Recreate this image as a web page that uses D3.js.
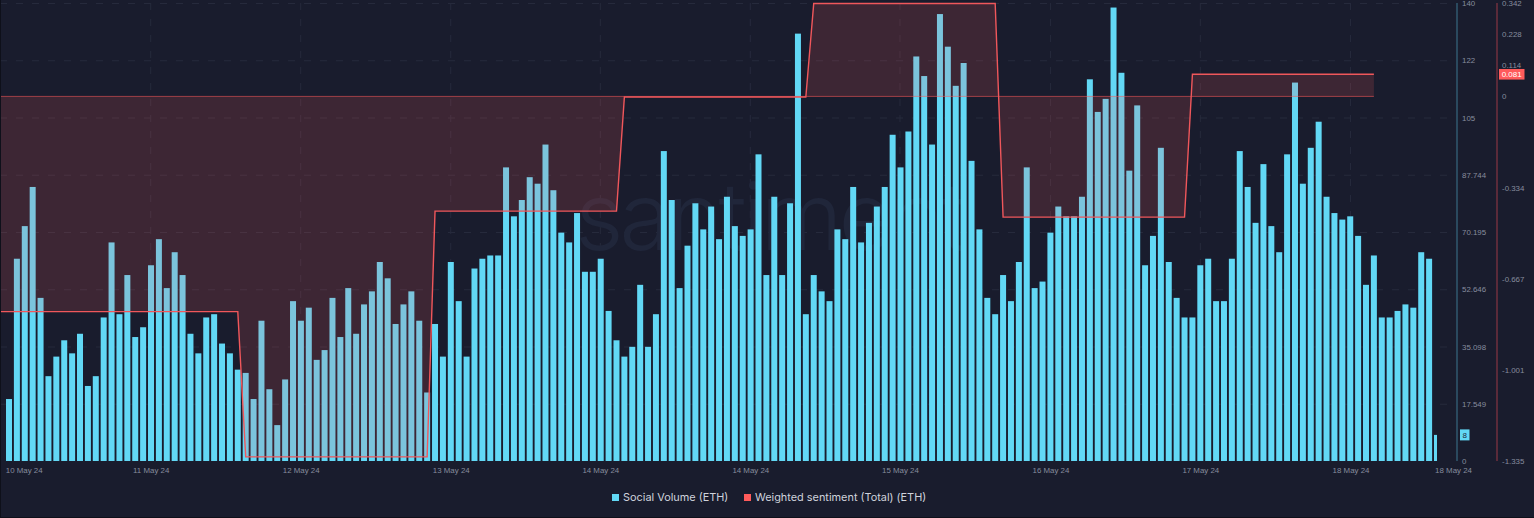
<!DOCTYPE html>
<html>
  <head>
    <meta charset="utf-8" />
    <script src="https://d3js.org/d3.v7.min.js" charset="utf-8"></script>
    <style>
      html, body { margin: 0; padding: 0; background: #191c2d; overflow: hidden; }
      svg { display: block; }
      text { font-family: "Inter", "Liberation Sans", sans-serif; }
      .axis path, .axis line { display: none; }
      .axis text { fill: #868c9d; font-size: 7.9px; font-family: "Liberation Sans", sans-serif; }
      .grid line { stroke: #262a3c; stroke-width: 1; stroke-dasharray: 7 9; }
    </style>
  </head>
  <body>
    <div id="chart"></div>
    <script type="text/javascript">
      var width = 1534, height = 518;
      var plotTop = 3, plotBottom = 461;

      // social volume, one value per bar
      var volume = [
        19, 62, 72, 84, 50, 26, 32, 37, 33, 39, 23, 26, 44, 67, 45, 57, 38, 41, 60, 68,
        53, 64, 57, 39, 33, 44, 45, 36, 33, 28, 27, 19, 43, 22, 11, 25, 49, 43, 47, 31,
        34, 50, 38, 53, 39, 48, 52, 61, 56, 42, 48, 52, 43, 21, 42, 32, 61, 49, 32, 59,
        62, 63, 63, 90, 75, 80, 87, 85, 97, 83, 70, 67, 76, 58, 58, 62, 46, 37, 32, 35,
        54, 35, 45, 95, 80, 53, 66, 79, 71, 78, 68, 81, 72, 69, 71, 94, 57, 81, 57, 79,
        131, 45, 57, 52, 49, 71, 68, 84, 67, 73, 78, 84, 100, 90, 101, 124, 118, 97, 137, 127,
        115, 122, 92, 71, 50, 45, 57, 49, 61, 90, 53, 55, 70, 78, 75, 75, 81, 117, 107, 111,
        139, 119, 89, 109, 60, 69, 96, 61, 50, 44, 44, 60, 62, 49, 49, 62, 95, 84, 73, 91,
        72, 64, 94, 116, 85, 96, 104, 81, 76, 74, 75, 69, 54, 63, 44, 44, 46, 48, 47, 64,
        62, 8
      ];

      // weighted sentiment, [bar index, value]
      var sentiment = [
        [-2, -0.788], [29, -0.788], [30, -1.32], [53, -1.32], [54, -0.42], [77, -0.42],
        [78, -0.002], [101, -0.002], [102, 0.34], [125, 0.34], [126, -0.442], [149, -0.442],
        [150, 0.081], [173, 0.081]
      ];

      var xTicks = [
        [1.86, '10 May 24'], [17.96, '11 May 24'], [36.97, '12 May 24'], [55.99, '13 May 24'],
        [74.95, '14 May 24'], [93.96, '14 May 24'], [112.93, '15 May 24'], [132, '16 May 24'],
        [151, '17 May 24'], [170.04, '18 May 24'], [183.03, '18 May 24']
      ];
      var xLabels = new Map(xTicks);

      var x = d3.scaleLinear().domain([0, 181]).range([9, 1437]);
      var yVolume = d3.scaleLinear().domain([0, 140.39]).range([plotBottom, plotTop]);
      var ySentiment = d3.scaleLinear().domain([-1.335, 0.342]).range([plotBottom, plotTop]);

      var svg = d3.select('#chart').append('svg')
        .attr('width', width)
        .attr('height', height);

      svg.append('rect')
        .attr('width', width)
        .attr('height', height)
        .attr('fill', '#191c2d');

      svg.append('clipPath').attr('id', 'plot')
        .append('rect')
        .attr('x', 0).attr('y', 0)
        .attr('width', 1456).attr('height', height);

      // grid
      var volumeTicks = [0, 17.549, 35.098, 52.646, 70.195, 87.744, 105.29, 122.84, 140.39];
      svg.append('g').attr('class', 'grid')
        .selectAll('line').data(volumeTicks.slice(1))
        .join('line')
        .attr('x1', 0).attr('x2', 1456)
        .attr('y1', function (d) { return yVolume(d) + 0.5; })
        .attr('y2', function (d) { return yVolume(d) + 0.5; });
      svg.append('g').attr('class', 'grid')
        .selectAll('line').data(xTicks.slice(1, 10))
        .join('line')
        .attr('x1', function (d) { return x(d[0]); })
        .attr('x2', function (d) { return x(d[0]); })
        .attr('y1', plotTop).attr('y2', plotBottom);

      // watermark
      svg.append('text')
        .attr('x', 575).attr('y', 250)
        .attr('font-size', 94)
        .attr('font-weight', 300)
        .attr('letter-spacing', -4)
        .attr('fill', '#20263a')
        .text('santiment');

      // bars, the last one is cut off by the end of the range
      svg.append('g')
        .selectAll('rect').data(volume)
        .join('rect')
        .attr('x', function (d, i) { return x(i) - 3; })
        .attr('width', function (d, i) { return i === 181 ? 3 : 6; })
        .attr('y', function (d) { return yVolume(d); })
        .attr('height', function (d) { return plotBottom - yVolume(d); })
        .attr('fill', '#62d8f5');

      // sentiment area and line
      var chart = svg.append('g').attr('clip-path', 'url(#plot)');

      chart.append('path')
        .datum(sentiment)
        .attr('fill', '#ff5b5b')
        .attr('fill-opacity', 0.16)
        .attr('d', d3.area()
          .x(function (d) { return x(d[0]); })
          .y0(ySentiment(0))
          .y1(function (d) { return ySentiment(d[1]); }));

      chart.append('line')
        .attr('x1', 0).attr('x2', x(173))
        .attr('y1', ySentiment(0)).attr('y2', ySentiment(0))
        .attr('stroke', '#ff5b5b')
        .attr('stroke-opacity', 0.55);

      chart.append('path')
        .datum(sentiment)
        .attr('fill', 'none')
        .attr('stroke', '#f0575b')
        .attr('stroke-width', 1.4)
        .attr('d', d3.line()
          .x(function (d) { return x(d[0]); })
          .y(function (d) { return ySentiment(d[1]); }));

      // axes
      svg.append('g').attr('class', 'axis')
        .attr('transform', 'translate(0,' + (plotBottom + 9) + ')')
        .call(d3.axisBottom(x)
          .tickValues(xTicks.map(function (d) { return d[0]; }))
          .tickFormat(function (d) { return xLabels.get(d); })
          .tickSize(0).tickPadding(0))
        .selectAll('text').attr('dy', '0.32em');

      svg.append('line')
        .attr('x1', 1457).attr('x2', 1457).attr('y1', plotTop).attr('y2', plotBottom)
        .attr('stroke', '#2f566b').attr('stroke-width', 1.6);
      svg.append('line')
        .attr('x1', 1497).attr('x2', 1497).attr('y1', plotTop).attr('y2', plotBottom)
        .attr('stroke', '#6b2f3d').attr('stroke-width', 1.6);

      svg.append('g').attr('class', 'axis')
        .attr('transform', 'translate(1462,0)')
        .call(d3.axisRight(yVolume)
          .tickValues(volumeTicks)
          .tickFormat(function (d) { return d === 105.29 ? '105' : d === 122.84 ? '122' : d === 140.39 ? '140' : String(d); })
          .tickSize(0).tickPadding(0));

      svg.append('g').attr('class', 'axis')
        .attr('transform', 'translate(1502,0)')
        .call(d3.axisRight(ySentiment)
          .tickValues([-1.335, -1.001, -0.667, -0.334, 0, 0.114, 0.228, 0.342])
          .tickFormat(function (d) { return String(d); })
          .tickSize(0).tickPadding(0));

      // last value tags
      var lastSentiment = sentiment[sentiment.length - 1][1];
      var lastVolume = volume[volume.length - 1];

      svg.append('rect')
        .attr('x', 1499).attr('y', ySentiment(lastSentiment) - 5.3)
        .attr('width', 25.5).attr('height', 10.6)
        .attr('fill', '#ff5b5b');
      svg.append('text')
        .attr('x', 1511.7).attr('y', ySentiment(lastSentiment))
        .attr('dy', '0.35em').attr('text-anchor', 'middle')
        .attr('font-size', 8).attr('fill', '#ffffff')
        .style('font-family', '"Liberation Sans", sans-serif')
        .text(lastSentiment);

      svg.append('rect')
        .attr('x', 1460).attr('y', yVolume(lastVolume) - 5.5)
        .attr('width', 9.5).attr('height', 11)
        .attr('fill', '#62d8f5');
      svg.append('text')
        .attr('x', 1464.7).attr('y', yVolume(lastVolume))
        .attr('dy', '0.35em').attr('text-anchor', 'middle')
        .attr('font-size', 8).attr('fill', '#1f2b3d')
        .style('font-family', '"Liberation Sans", sans-serif')
        .text(lastVolume);

      // legend
      var legend = [
        { name: 'Social Volume (ETH)', color: '#62d8f5', x: 612 },
        { name: 'Weighted sentiment (Total) (ETH)', color: '#ff5b5b', x: 744 }
      ];
      var items = svg.append('g').selectAll('g').data(legend).join('g')
        .attr('transform', function (d) { return 'translate(' + d.x + ',0)'; });
      items.append('rect')
        .attr('y', 494).attr('width', 7).attr('height', 7)
        .attr('fill', function (d) { return d.color; });
      items.append('text')
        .attr('x', 11).attr('y', 501)
        .attr('font-size', 10.9)
        .attr('fill', '#cfd3dc')
        .text(function (d) { return d.name; });

      // dark edge of the screenshot
      svg.append('rect').attr('x', 0).attr('y', 517).attr('width', width).attr('height', 1).attr('fill', '#0e101a');
      svg.append('rect').attr('x', 0).attr('y', 0).attr('width', 1).attr('height', height).attr('fill', '#0e101a');
    </script>
  </body>
</html>
